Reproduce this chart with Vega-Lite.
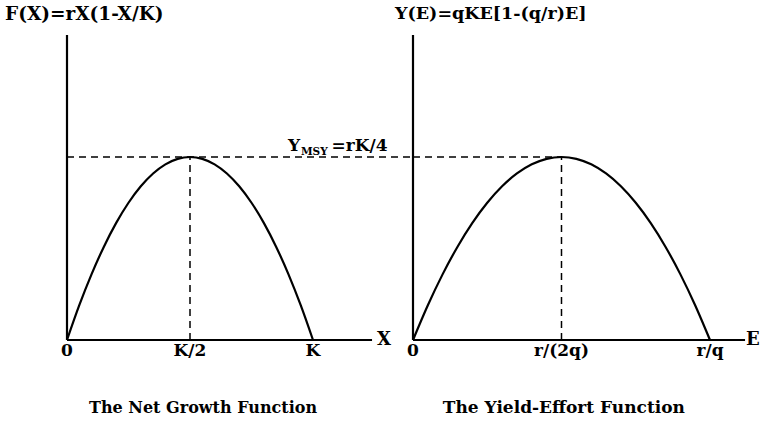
{
  "$schema": "https://vega.github.io/schema/vega-lite/v6.json",
  "autosize": {"type": "pad"},
  "padding": {"left": 5, "top": 5, "right": 0, "bottom": 0},
  "bounds": "flush",
  "spacing": 0,
  "background": "white",
  "config": {
    "view": {"stroke": null},
    "text": {"font": "DejaVu Serif", "fontWeight": "bold", "color": "black"}
  },
  "datasets": {
    "curve": [
      {"x": 0, "y": 0}, {"x": 0.05, "y": 0.0475}, {"x": 0.1, "y": 0.09}, {"x": 0.15, "y": 0.1275},
      {"x": 0.2, "y": 0.16}, {"x": 0.25, "y": 0.1875}, {"x": 0.3, "y": 0.21}, {"x": 0.35, "y": 0.2275},
      {"x": 0.4, "y": 0.24}, {"x": 0.45, "y": 0.2475}, {"x": 0.5, "y": 0.25}, {"x": 0.55, "y": 0.2475},
      {"x": 0.6, "y": 0.24}, {"x": 0.65, "y": 0.2275}, {"x": 0.7, "y": 0.21}, {"x": 0.75, "y": 0.1875},
      {"x": 0.8, "y": 0.16}, {"x": 0.85, "y": 0.1275}, {"x": 0.9, "y": 0.09}, {"x": 0.95, "y": 0.0475},
      {"x": 1, "y": 0}
    ]
  },
  "hconcat": [
    {
      "width": 346,
      "height": 305,
      "encoding": {
        "x": {"field": "x", "type": "quantitative", "scale": {"domain": [0, 1.4065], "nice": false, "zero": false}, "axis": null},
        "y": {"field": "y", "type": "quantitative", "scale": {"domain": [0, 0.4167], "nice": false, "zero": false}, "axis": null}
      },
      "layer": [
        {
          "data": {"values": [
            {"x": 0, "y": 0, "x2": 0, "y2": 0.4167},
            {"x": 0, "y": 0, "x2": 1.24, "y2": 0}
          ]},
          "mark": {"type": "rule", "color": "black", "strokeWidth": 2.2},
          "encoding": {"x2": {"field": "x2"}, "y2": {"field": "y2"}}
        },
        {
          "data": {"values": [
            {"x": 0, "y": 0.25, "x2": 1.4065, "y2": 0.25},
            {"x": 0.5, "y": 0, "x2": 0.5, "y2": 0.25}
          ]},
          "mark": {"type": "rule", "color": "black", "strokeWidth": 1.5, "strokeDash": [7, 5]},
          "encoding": {"x2": {"field": "x2"}, "y2": {"field": "y2"}}
        },
        {
          "data": {"name": "curve"},
          "mark": {"type": "line", "color": "black", "strokeWidth": 2.2, "interpolate": "monotone"},
          "encoding": {}
        },
        {
          "data": {"values": [
            {"x": 0, "y": 0, "label": "0"},
            {"x": 0.5, "y": 0, "label": "K/2"},
            {"x": 1, "y": 0, "label": "K"}
          ]},
          "mark": {"type": "text", "fontSize": 17, "align": "center", "baseline": "top", "dy": 3},
          "encoding": {"text": {"field": "label"}}
        },
        {
          "data": {"values": [{"x": 1.24, "y": 0, "label": "X"}]},
          "mark": {"type": "text", "fontSize": 18, "align": "left", "baseline": "middle", "dx": 5},
          "encoding": {"text": {"field": "label"}}
        },
        {
          "data": {"values": [{"x": 0, "y": 0.4167, "label": "F(X)=rX(1-X/K)"}]},
          "mark": {"type": "text", "fontSize": 18.5, "align": "left", "baseline": "top", "dx": -62, "dy": -30},
          "encoding": {"text": {"field": "label"}}
        },
        {
          "data": {"values": [{"x": 0.553, "y": 0, "label": "The Net Growth Function"}]},
          "mark": {"type": "text", "fontSize": 16, "align": "center", "baseline": "alphabetic", "dy": 73},
          "encoding": {"text": {"field": "label"}}
        },
        {
          "data": {"values": [{"x": 0.898, "y": 0.25, "label": "Y"}, {"x": 1.075, "y": 0.25, "label": "=rK/4"}]},
          "mark": {"type": "text", "fontSize": 17, "align": "left", "baseline": "alphabetic", "dy": -6},
          "encoding": {"text": {"field": "label"}}
        },
        {
          "data": {"values": [{"x": 0.951, "y": 0.25, "label": "MSY"}]},
          "mark": {"type": "text", "fontSize": 10.5, "align": "left", "baseline": "alphabetic", "dy": -2},
          "encoding": {"text": {"field": "label"}}
        }
      ]
    },
    {
      "width": 349,
      "height": 305,
      "encoding": {
        "x": {"field": "x", "type": "quantitative", "scale": {"domain": [0, 1.1751], "nice": false, "zero": false}, "axis": null},
        "y": {"field": "y", "type": "quantitative", "scale": {"domain": [0, 0.4167], "nice": false, "zero": false}, "axis": null}
      },
      "layer": [
        {
          "data": {"values": [
            {"x": 0, "y": 0, "x2": 0, "y2": 0.4167},
            {"x": 0, "y": 0, "x2": 1.118, "y2": 0}
          ]},
          "mark": {"type": "rule", "color": "black", "strokeWidth": 2.2},
          "encoding": {"x2": {"field": "x2"}, "y2": {"field": "y2"}}
        },
        {
          "data": {"values": [
            {"x": 0, "y": 0.25, "x2": 0.5, "y2": 0.25},
            {"x": 0.5, "y": 0, "x2": 0.5, "y2": 0.25}
          ]},
          "mark": {"type": "rule", "color": "black", "strokeWidth": 1.5, "strokeDash": [7, 5]},
          "encoding": {"x2": {"field": "x2"}, "y2": {"field": "y2"}}
        },
        {
          "data": {"name": "curve"},
          "mark": {"type": "line", "color": "black", "strokeWidth": 2.2, "interpolate": "monotone"},
          "encoding": {}
        },
        {
          "data": {"values": [
            {"x": 0, "y": 0, "label": "0"},
            {"x": 0.5, "y": 0, "label": "r/(2q)"},
            {"x": 1, "y": 0, "label": "r/q"}
          ]},
          "mark": {"type": "text", "fontSize": 17, "align": "center", "baseline": "top", "dy": 3},
          "encoding": {"text": {"field": "label"}}
        },
        {
          "data": {"values": [{"x": 1.118, "y": 0, "label": "E"}]},
          "mark": {"type": "text", "fontSize": 18, "align": "left", "baseline": "middle", "dx": 1},
          "encoding": {"text": {"field": "label"}}
        },
        {
          "data": {"values": [{"x": 0, "y": 0.4167, "label": "Y(E)=qKE[1-(q/r)E]"}]},
          "mark": {"type": "text", "fontSize": 17.5, "align": "left", "baseline": "top", "dx": -18, "dy": -30},
          "encoding": {"text": {"field": "label"}}
        },
        {
          "data": {"values": [{"x": 0.508, "y": 0, "label": "The Yield-Effort Function"}]},
          "mark": {"type": "text", "fontSize": 17, "align": "center", "baseline": "alphabetic", "dy": 73},
          "encoding": {"text": {"field": "label"}}
        }
      ]
    }
  ]
}
